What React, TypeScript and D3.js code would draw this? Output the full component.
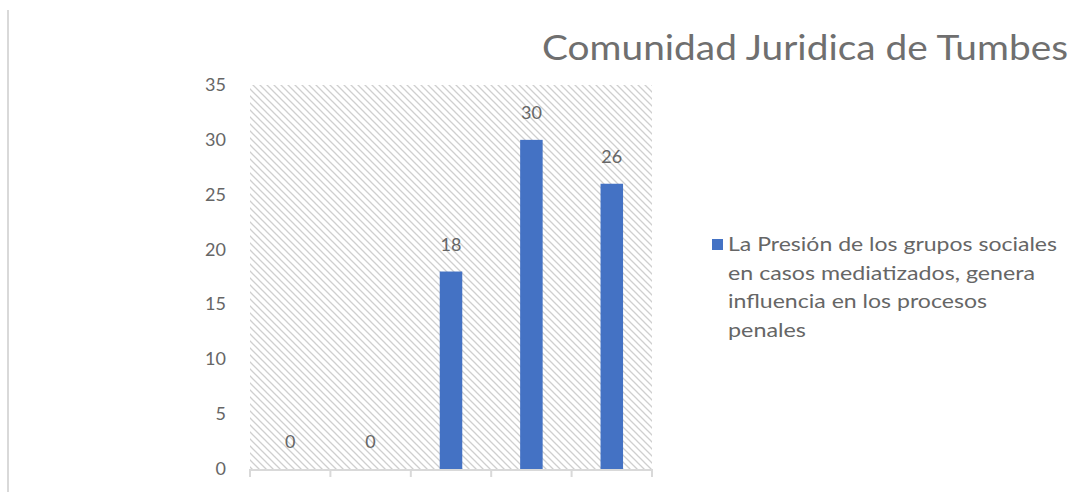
import React from "react";
import * as d3 from "d3";

const categories = ["A", "B", "C", "D", "E"];
const values = [0, 0, 18, 30, 26];
const yTicks = [0, 5, 10, 15, 20, 25, 30, 35];
const titleText = "Comunidad Juridica de Tumbes";
const legendLines = [
  "La Presión de los grupos sociales",
  "en casos mediatizados, genera",
  "influencia en los procesos",
  "penales",
];
const legendWidths = [329, 307, 259, 78];

const W = 1070;
const H = 492;
const FONT = "Lato, 'Open Sans', 'Liberation Sans', sans-serif";
const TEXT = "#666666";
const BLUE = "#4472C4";

export default function App() {
  const x = d3.scaleBand<string>().domain(categories).range([250, 652]).padding(0);
  const y = d3.scaleLinear().domain([0, 35]).range([469, 85]);
  const barW = x.step() * 0.28;
  const edges = [...categories.map((c) => x(c) as number), x.range()[1]];

  return (
    <svg
      width={W}
      height={H}
      style={{ position: "fixed", left: 0, top: 0, background: "#fff" }}
      fontFamily={FONT}
    >
      <defs>
        <pattern id="hatch" patternUnits="userSpaceOnUse" width={7} height={7}>
          <path d="M0,0 L7,7 M-1,6 L1,8 M6,-1 L8,1" stroke="#cfcfcf" strokeWidth={1.3} />
        </pattern>
      </defs>
      <rect x={0} y={0} width={W} height={H} fill="#fff" />
      <line x1={8} x2={8} y1={10} y2={H} stroke="#d9d9d9" strokeWidth={2} />

      <text
        x={542}
        y={60}
        fontSize={34}
        fill="#6f6f6f"
        textLength={526}
        lengthAdjust="spacingAndGlyphs"
      >
        {titleText}
      </text>

      <rect
        x={x.range()[0]}
        y={y(35)}
        width={x.range()[1] - x.range()[0]}
        height={y(0) - y(35)}
        fill="url(#hatch)"
      />

      {yTicks.map((t) => (
        <text key={t} x={226} y={y(t) + 6} fontSize={18} fill={TEXT} textAnchor="end">
          {t}
        </text>
      ))}

      {categories.map((c, i) => (
        <rect
          key={c}
          x={(x(c) as number) + x.bandwidth() / 2 - barW / 2}
          y={y(values[i])}
          width={barW}
          height={y(0) - y(values[i])}
          fill={BLUE}
        />
      ))}

      <line x1={x.range()[0] - 1} x2={x.range()[1] + 1} y1={y(0) + 1} y2={y(0) + 1} stroke="#d9d9d9" strokeWidth={2} />
      {edges.map((e, i) => (
        <line key={i} x1={e} x2={e} y1={y(0)} y2={y(0) + 8} stroke="#d9d9d9" strokeWidth={2} />
      ))}

      {categories.map((c, i) => (
        <text
          key={c}
          x={(x(c) as number) + x.bandwidth() / 2}
          y={y(values[i]) - 21}
          fontSize={18}
          fill={TEXT}
          textAnchor="middle"
        >
          {values[i]}
        </text>
      ))}

      <rect x={712} y={239} width={11} height={11} fill={BLUE} />
      {legendLines.map((l, i) => (
        <text
          key={i}
          x={728}
          y={251 + i * 28.5}
          fontSize={19}
          fill={TEXT}
          textLength={legendWidths[i]}
          lengthAdjust="spacingAndGlyphs"
        >
          {l}
        </text>
      ))}
    </svg>
  );
}
